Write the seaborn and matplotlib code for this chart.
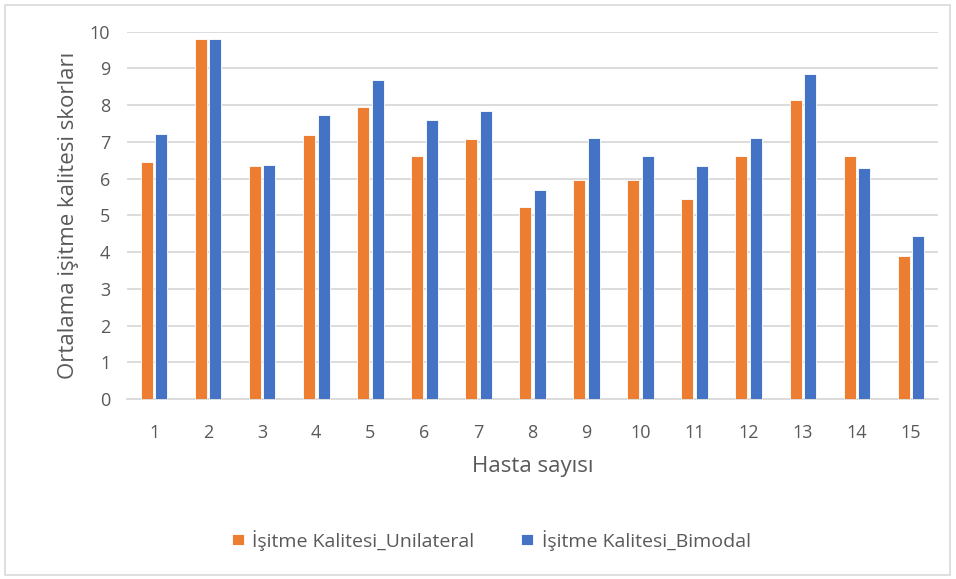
import pandas as pd
import matplotlib.pyplot as plt
import seaborn as sns
from matplotlib.patches import Rectangle

# Values
hasta = [str(i) for i in range(1, 16)]
unilateral = [6.45, 9.80, 6.35, 7.18, 7.95, 6.62, 7.08, 5.22, 5.96, 5.96, 5.44, 6.62, 8.13, 6.62, 3.88]
bimodal = [7.21, 9.80, 6.38, 7.74, 8.68, 7.60, 7.85, 5.68, 7.11, 6.62, 6.35, 7.11, 8.86, 6.28, 4.43]
series_names = ['İşitme Kalitesi_Unilateral', 'İşitme Kalitesi_Bimodal']
colors = ['#ed7d31', '#4472c4']

df = pd.DataFrame({
    'Hasta': hasta * 2,
    'Skor': unilateral + bimodal,
    'Seri': [series_names[0]] * len(hasta) + [series_names[1]] * len(hasta),
})

sns.set_style('white')
plt.rcParams['font.family'] = ['Open Sans', 'DejaVu Sans']
text_color = '#595959'
grid_color = '#d9d9d9'

fig = plt.figure(figsize=(9.56, 5.79), dpi=100)
ax = fig.add_axes([127 / 956, 1 - 399 / 579, (938 - 127) / 956, (399 - 31.7) / 579])

sns.barplot(data=df, x='Hasta', y='Skor', hue='Seri', palette=colors,
            saturation=1, width=0.54, gap=0.18, edgecolor='white', linewidth=0.6,
            ax=ax, legend=True, zorder=3)

# Axes styling
ax.set_ylim(0, 10)
ax.set_yticks(range(0, 11))
ax.yaxis.grid(True, color=grid_color, linewidth=1.3, zorder=0)
ax.set_axisbelow(True)
for side in ['top', 'right', 'left']:
    ax.spines[side].set_visible(False)
ax.spines['bottom'].set_color(grid_color)
ax.spines['bottom'].set_linewidth(1.3)
ax.tick_params(axis='both', length=0, labelsize=13, colors=text_color)
ax.tick_params(axis='y', pad=12)
ax.tick_params(axis='x', pad=18)

ax.set_xlabel('Hasta sayısı', fontsize=16, color=text_color, labelpad=10)
ax.set_ylabel('Ortalama işitme kalitesi skorları', fontsize=16, color=text_color, labelpad=8)

# Legend below the plot
handles, labels = ax.get_legend_handles_labels()
ax.legend_.remove()
fig.legend(handles, labels, loc='center', bbox_to_anchor=(0.514, 0.067), ncol=2,
           frameon=False, fontsize=14, labelcolor=text_color, handlelength=0.6,
           handleheight=0.5, handletextpad=0.45, columnspacing=2.4)

# Outer chart border
fig.patches.append(Rectangle((5 / 956, 4 / 579), 945 / 956, 570 / 579,
                             transform=fig.transFigure, fill=False,
                             edgecolor=grid_color, linewidth=1.2))

plt.savefig('out.png', dpi=100)
